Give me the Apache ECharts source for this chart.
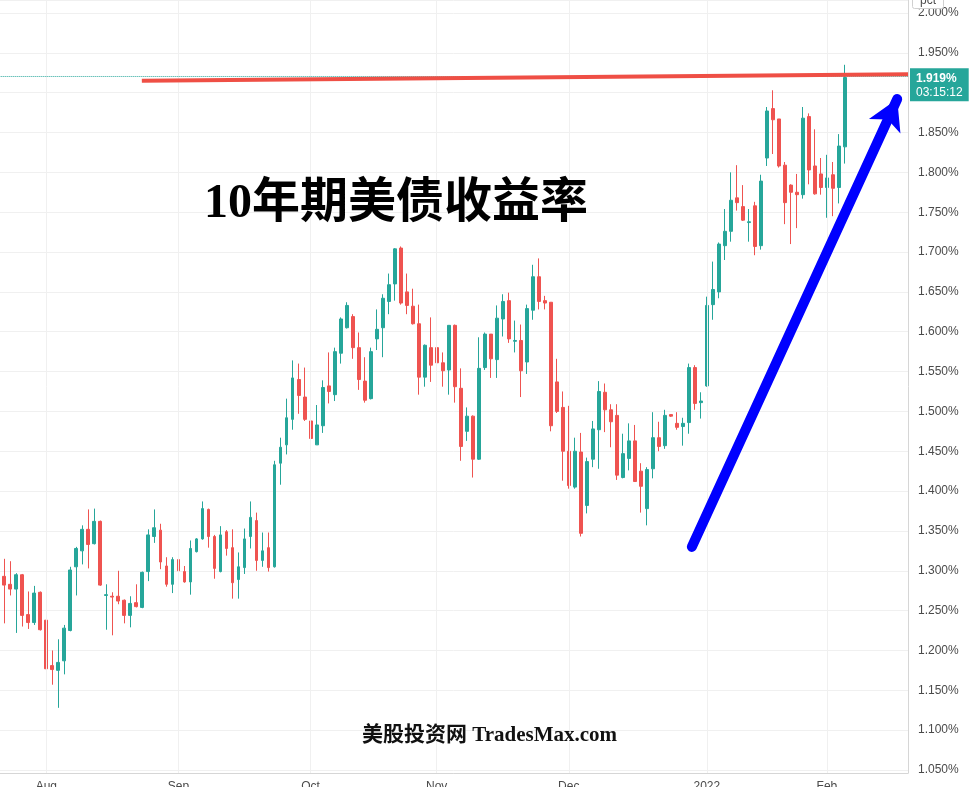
<!DOCTYPE html>
<html><head><meta charset="utf-8">
<script src="https://cdn.jsdelivr.net/npm/echarts@6/dist/echarts.min.js"></script>
<style>html,body{margin:0;padding:0;background:#fff}#c{width:972px;height:787px}</style>
</head><body><div id="c"></div><script>
// ---- data (10Y US Treasury yield, daily, %) ----
const openP = [1.222,1.293,1.283,1.277,1.295,1.245,1.235,1.273,1.238,1.181,
1.175,1.187,1.225,1.305,1.325,1.352,1.334,1.362,1.269,1.268,
1.268,1.263,1.244,1.260,1.254,1.299,1.343,1.351,1.306,1.283,
1.314,1.299,1.286,1.324,1.340,1.377,1.343,1.299,1.349,1.329,
1.289,1.304,1.343,1.363,1.313,1.329,1.305,1.435,1.458,1.490,
1.540,1.518,1.488,1.458,1.482,1.532,1.521,1.573,1.605,1.619,
1.580,1.538,1.516,1.591,1.605,1.638,1.660,1.705,1.650,1.632,
1.610,1.543,1.580,1.580,1.561,1.552,1.608,1.529,1.475,1.494,
1.440,1.555,1.597,1.565,1.616,1.639,1.588,1.589,1.562,1.627,
1.669,1.639,1.637,1.537,1.505,1.450,1.405,1.449,1.382,1.440,
1.477,1.524,1.502,1.495,1.417,1.441,1.463,1.425,1.378,1.428,
1.467,1.457,1.496,1.485,1.481,1.486,1.555,1.511,1.532,1.634,
1.650,1.708,1.726,1.768,1.757,1.737,1.758,1.708,1.818,1.880,
1.867,1.809,1.784,1.775,1.772,1.870,1.808,1.798,1.781,1.797,
1.781,1.832];
const closeP = [1.288,1.282,1.277,1.295,1.244,1.235,1.272,1.226,1.177,1.176,
1.185,1.228,1.301,1.328,1.352,1.333,1.362,1.282,1.270,1.267,
1.262,1.244,1.259,1.255,1.298,1.345,1.354,1.311,1.283,1.314,
1.300,1.286,1.328,1.340,1.378,1.343,1.303,1.345,1.328,1.285,
1.305,1.340,1.367,1.313,1.325,1.304,1.433,1.455,1.492,1.542,
1.520,1.490,1.466,1.483,1.530,1.525,1.575,1.616,1.633,1.580,
1.540,1.514,1.575,1.603,1.642,1.659,1.704,1.636,1.633,1.610,
1.543,1.583,1.558,1.561,1.551,1.608,1.531,1.456,1.494,1.440,
1.554,1.597,1.566,1.617,1.638,1.591,1.589,1.551,1.629,1.669,
1.638,1.636,1.482,1.500,1.450,1.407,1.450,1.347,1.437,1.478,
1.525,1.502,1.487,1.420,1.447,1.463,1.412,1.406,1.427,1.467,
1.456,1.495,1.494,1.480,1.485,1.555,1.510,1.513,1.633,1.653,
1.710,1.726,1.765,1.762,1.740,1.738,1.707,1.789,1.877,1.866,
1.808,1.762,1.775,1.772,1.868,1.803,1.773,1.781,1.793,1.780,
1.833,1.919];
const lowP = [1.215,1.234,1.269,1.222,1.230,1.227,1.232,1.225,1.152,1.157,
1.128,1.170,1.224,1.269,1.308,1.303,1.333,1.281,1.226,1.219,
1.258,1.234,1.229,1.254,1.253,1.287,1.335,1.302,1.280,1.272,
1.286,1.285,1.270,1.323,1.339,1.329,1.290,1.298,1.319,1.265,
1.265,1.296,1.328,1.300,1.305,1.299,1.304,1.408,1.446,1.477,
1.497,1.488,1.464,1.458,1.473,1.510,1.513,1.560,1.604,1.566,
1.527,1.511,1.515,1.577,1.568,1.622,1.639,1.634,1.622,1.609,
1.521,1.531,1.537,1.556,1.531,1.521,1.511,1.438,1.463,1.417,
1.439,1.552,1.542,1.542,1.594,1.586,1.574,1.518,1.547,1.615,
1.628,1.628,1.475,1.498,1.413,1.403,1.403,1.343,1.372,1.430,
1.428,1.474,1.455,1.414,1.416,1.426,1.412,1.373,1.357,1.416,
1.450,1.453,1.493,1.477,1.457,1.472,1.502,1.491,1.531,1.615,
1.642,1.690,1.713,1.752,1.739,1.713,1.696,1.703,1.808,1.823,
1.806,1.735,1.710,1.730,1.767,1.785,1.772,1.772,1.743,1.745,
1.761,1.811];
const highP = [1.295,1.315,1.312,1.297,1.296,1.274,1.281,1.274,1.245,1.200,
1.214,1.232,1.305,1.330,1.357,1.377,1.378,1.363,1.283,1.273,
1.300,1.264,1.268,1.283,1.299,1.352,1.377,1.359,1.317,1.317,
1.335,1.306,1.338,1.341,1.387,1.378,1.345,1.356,1.351,1.352,
1.323,1.353,1.387,1.373,1.348,1.348,1.438,1.467,1.516,1.564,
1.560,1.555,1.510,1.508,1.539,1.574,1.580,1.618,1.637,1.622,
1.599,1.568,1.580,1.628,1.647,1.673,1.705,1.707,1.673,1.654,
1.634,1.584,1.618,1.605,1.574,1.608,1.609,1.554,1.505,1.495,
1.593,1.599,1.597,1.633,1.647,1.649,1.614,1.609,1.634,1.684,
1.692,1.645,1.637,1.566,1.525,1.507,1.467,1.473,1.442,1.488,
1.538,1.535,1.509,1.509,1.472,1.485,1.483,1.435,1.430,1.499,
1.487,1.502,1.496,1.499,1.492,1.560,1.558,1.524,1.644,1.688,
1.712,1.754,1.800,1.809,1.784,1.754,1.763,1.797,1.882,1.903,
1.867,1.813,1.785,1.798,1.882,1.874,1.854,1.818,1.822,1.813,
1.848,1.935];
const emptySlots = 10;                         // blank bars to the right of the last candle
const monthLabels = ['Aug','Sep','Oct','Nov','Dec','2022','Feb'];
const monthStartIdx = [8,30,52,73,95,118,138];
const yMin = 1.0462, yMax = 2.0163;
const resistanceLine = [[23.9, 1.915], [151.5, 1.923]];   // drawn red line (bar index, %)
const trendArrow = [[115.5, 1.330], [149.7, 1.892]];      // drawn blue arrow (bar index, %)
const countdownText = '03:15:12';
const unitText = 'pct';
const titleText = '10年期美债收益率';
const watermarkText = '美股投资网 TradesMax.com';

// ---- build ----
const nCat = openP.length + emptySlots;
const categories = Array.from({length: nCat}, (_, i) => String(i));
const candles = openP.map((o, i) => [o, closeP[i], lowP[i], highP[i]]);
const lastClose = closeP[closeP.length - 1];
const UP = '#26a69a', DOWN = '#ef5350';
const axisText = '#4a4a4a';
const font = "'Liberation Sans', Arial, sans-serif";
const serifCJK = "'Liberation Serif', 'Noto Sans CJK SC', serif";

const chart = echarts.init(document.getElementById('c'), null, {renderer: 'canvas'});
chart.setOption({
  animation: false,
  backgroundColor: '#ffffff',
  title: [
    {text: titleText, left: 204, top: 181, padding: 0,
     textStyle: {fontSize: 48, fontWeight: 'bold', color: '#000', fontFamily: serifCJK}},
    {text: watermarkText, left: 362, top: 725, padding: 0,
     textStyle: {fontSize: 21, fontWeight: 'bold', color: '#111', fontFamily: serifCJK}},
    {text: unitText, left: 912, top: -7, padding: [2, 8, 2, 8],
     borderColor: '#d0d0d0', borderWidth: 1, borderRadius: 2, backgroundColor: '#fff',
     textStyle: {fontSize: 12, fontWeight: 'normal', color: axisText, fontFamily: font}}
  ],
  grid: {left: -4.67, right: 64, top: 0, bottom: 14, containLabel: false, outerBoundsMode: 'none'},
  xAxis: [
    {type: 'category', data: categories, boundaryGap: true,
     axisLine: {show: true, onZero: false, lineStyle: {color: '#d6d6d6'}},
     axisTick: {show: false},
     splitLine: {show: false},
     axisLabel: {
       interval: (i) => monthStartIdx.includes(i),
       formatter: (v, i) => { const k = monthStartIdx.indexOf(i); return k >= 0 ? monthLabels[k] : ''; },
       color: axisText, fontSize: 12, margin: 8, fontFamily: font
     }},
    {type: 'value', min: -0.5, max: nCat - 0.5, show: false}
  ],
  yAxis: [{
    type: 'value', position: 'right', min: yMin, max: yMax, splitNumber: 20,
    axisLine: {show: true, onZero: false, lineStyle: {color: '#d6d6d6'}},
    axisTick: {show: false},
    splitLine: {show: true, lineStyle: {color: '#f0f0f0', width: 1}},
    axisLabel: {
      showMinLabel: false, showMaxLabel: false,
      formatter: (v) => Math.abs(v / 0.05 - Math.round(v / 0.05)) < 1e-6 ? v.toFixed(3) + '%' : '',
      color: axisText, fontSize: 12, margin: 10, fontFamily: font
    }
  }],
  series: [
    {
      name: 'gridV', type: 'line', xAxisIndex: 1, yAxisIndex: 0, data: [], z: 0, silent: true,
      markLine: {silent: true, symbol: ['none', 'none'], animation: false,
        label: {show: false},
        lineStyle: {color: '#f0f0f0', type: 'solid', width: 1},
        data: monthStartIdx.map(i => ({xAxis: i}))}
    },
    {
      name: 'US10Y', type: 'candlestick', xAxisIndex: 0, yAxisIndex: 0, z: 2,
      data: candles, barWidth: 3.4,
      itemStyle: {color: UP, color0: DOWN, borderColor: UP, borderColor0: DOWN, borderWidth: 1},
      markLine: {
        silent: true, symbol: ['none', 'none'], animation: false,
        lineStyle: {color: UP, type: 'dotted', width: 1},
        data: [{yAxis: lastClose}],
        label: {
          show: true, position: 'end', distance: 2, offset: [0, 8],
          formatter: '{p|' + lastClose.toFixed(3) + '%}\n{t|' + countdownText + '}',
          backgroundColor: UP, padding: [3, 6, 2, 6],
          rich: {
            p: {color: '#fff', fontSize: 12, fontWeight: 'bold', lineHeight: 14, fontFamily: font},
            t: {color: '#fff', fontSize: 12, lineHeight: 14, fontFamily: font}
          }
        }
      }
    },
    {
      name: 'resistance', type: 'line', xAxisIndex: 1, yAxisIndex: 0, data: [], z: 5, silent: true,
      markLine: {silent: true, symbol: ['none', 'none'], animation: false,
        label: {show: false},
        lineStyle: {color: '#ef4f45', type: 'solid', width: 4},
        data: [[{coord: resistanceLine[0]}, {coord: resistanceLine[1]}]]}
    },
    {
      name: 'arrow', type: 'line', xAxisIndex: 1, yAxisIndex: 0, data: [], z: 6, silent: true,
      markLine: {silent: true, symbol: ['none', 'arrow'], symbolSize: [26, 30], animation: false,
        label: {show: false},
        lineStyle: {color: '#0000ff', type: 'solid', width: 10, cap: 'round'},
        itemStyle: {color: '#0000ff'},
        data: [[{coord: trendArrow[0]}, {coord: trendArrow[1]}]]}
    }
  ]
});
</script></body></html>
